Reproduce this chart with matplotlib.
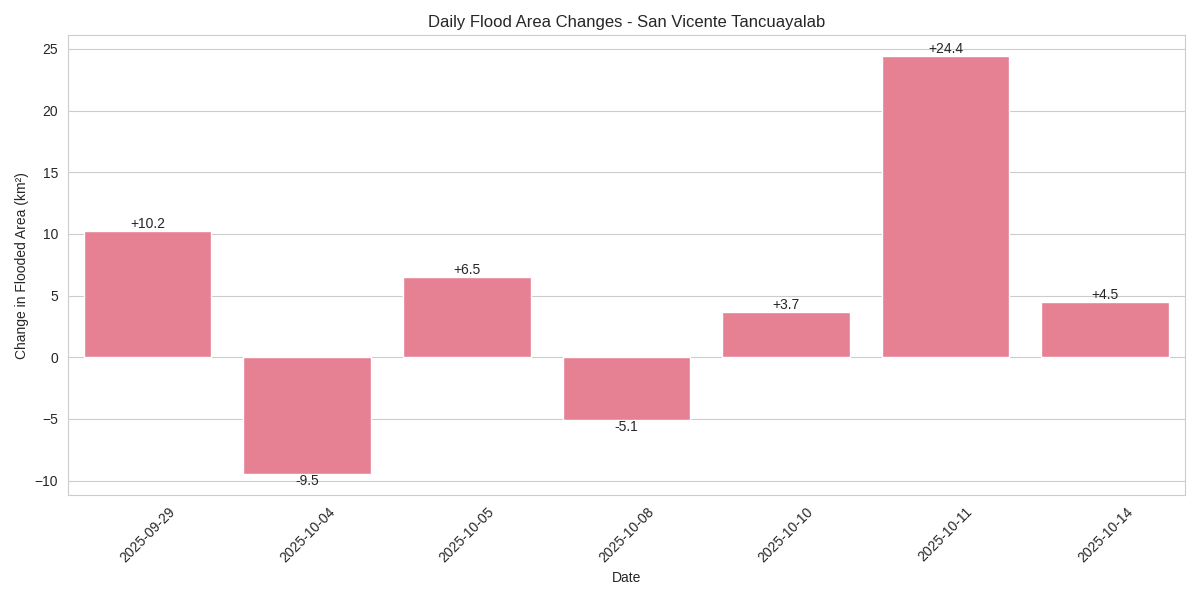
import matplotlib
matplotlib.use("Agg")
import matplotlib.pyplot as plt
import seaborn as sns
import pandas as pd

dates = ["2025-09-29", "2025-10-04", "2025-10-05", "2025-10-08", "2025-10-10", "2025-10-11", "2025-10-14"]
changes = [10.2, -9.5, 6.5, -5.1, 3.7, 24.4, 4.5]

sns.set_style("whitegrid")
plt.rcParams['font.family'] = ['Liberation Sans', 'DejaVu Sans']
bar_color = sns.color_palette("husl", 8)[0]

fig, ax = plt.subplots(figsize=(12, 6), dpi=100)
df = pd.DataFrame({"Date": dates, "Change": changes})
sns.barplot(data=df, x="Date", y="Change", color=bar_color, ax=ax)

for i, v in enumerate(changes):
    ax.text(i, v, f"{v:+.1f}", ha="center", va="bottom" if v > 0 else "top", fontsize=10)

ax.set_title("Daily Flood Area Changes - San Vicente Tancuayalab")
ax.set_xlabel("Date")
ax.set_ylabel("Change in Flooded Area (km²)")
plt.setp(ax.get_xticklabels(), rotation=45)
fig.tight_layout()
fig.savefig("out.png")
